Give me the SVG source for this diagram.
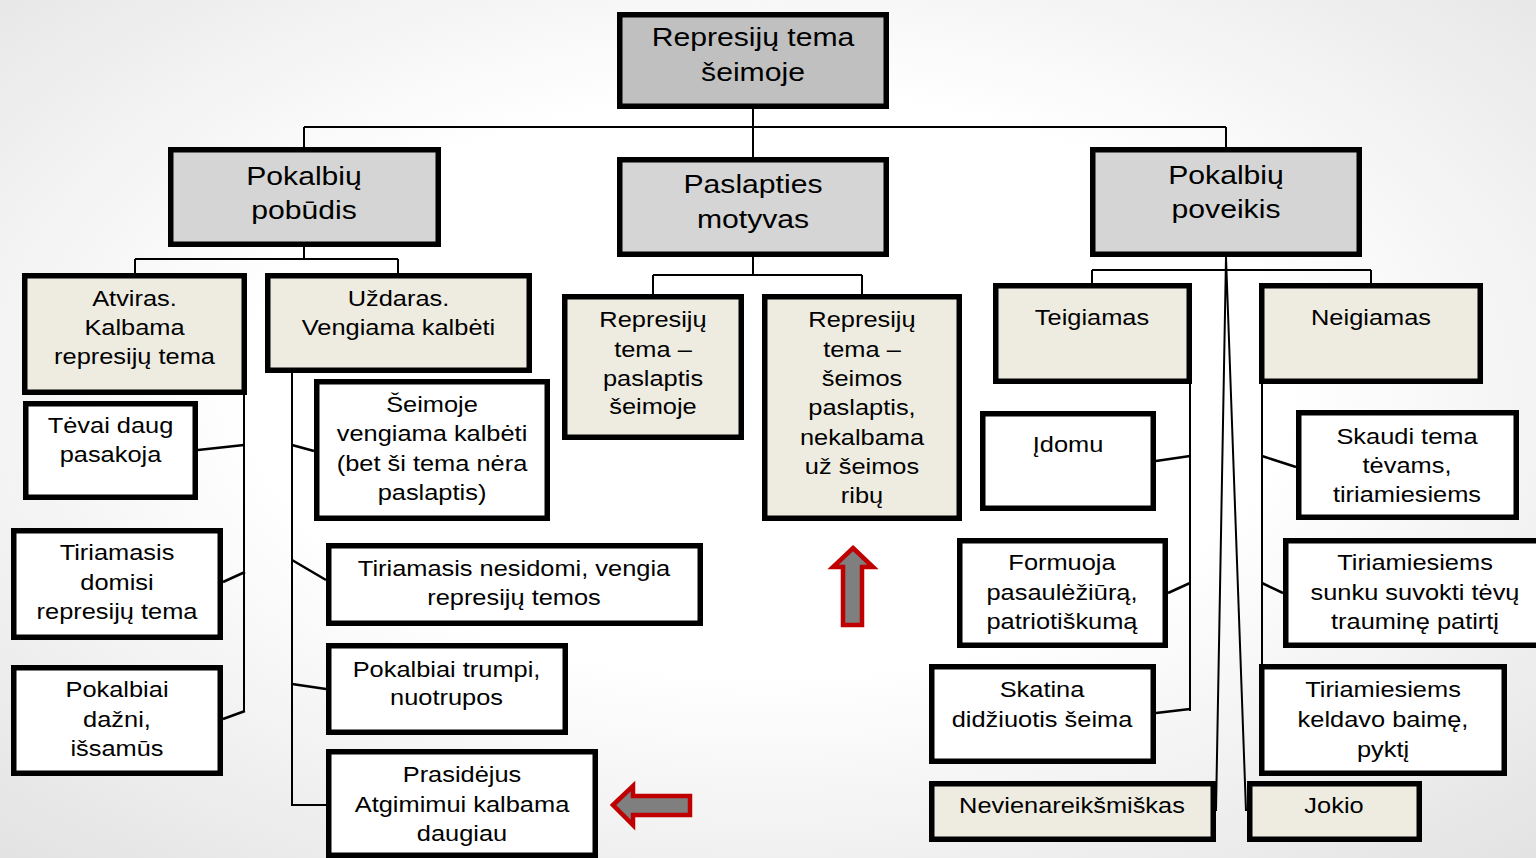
<svg xmlns="http://www.w3.org/2000/svg" width="1536" height="858" viewBox="0 0 1536 858">
<defs>
<radialGradient id="bg" cx="50%" cy="45%" r="75%">
<stop offset="0.45" stop-color="#ffffff"/>
<stop offset="1" stop-color="#e2e2e2"/>
</radialGradient>
<style>
.b{stroke:#000;stroke-width:5.5;}
.g1{fill:#c0c0c0;}
.g2{fill:#d5d5d5;}
.t2{fill:#eeece1;}
.w{fill:#ffffff;}
.c{fill:none;stroke:#000;stroke-width:2;}
.d{fill:none;stroke:#000;stroke-width:2.5;}
text{font-family:"Liberation Sans",Arial,sans-serif;fill:#000;text-anchor:middle;}
.L{font-size:26px;}
.S{font-size:22px;}
.arr{fill:#7f7f7f;stroke:#c00000;stroke-width:4.5;stroke-linejoin:miter;}
</style>
</defs>
<rect x="0" y="0" width="1536" height="858" fill="url(#bg)"/>

<g id="connectors">
<path class="c" d="M753,109V157M304,127H1226M304,127V147M1226,127V147"/>
<path class="c" d="M304,247V259M135,259H398M135,259V273M398,259V273"/>
<path class="c" d="M753,257V275M653,275H862M653,275V294M862,275V294"/>
<path class="c" d="M1226,257V270M1092,270H1371M1092,270V283M1371,270V283"/>
<path class="c" d="M1226,257L1216,811M1226,257L1246,811"/>
<path class="c" d="M244,395V711"/>
<path class="d" d="M198,450L244,445M223,582L245,572M223,719L245,711"/>
<path class="c" d="M292,373V805H326"/>
<path class="d" d="M292,445L314,451M292,560L326,580M292,684L326,689"/>
<path class="c" d="M1190,384V711"/>
<path class="d" d="M1156,461L1190,456M1168,593L1190,583M1156,713L1190,709"/>
<path class="c" d="M1262,384V664"/>
<path class="d" d="M1262,456L1296,467M1262,583L1283,593"/>
</g>

<g id="root">
<rect class="b g1" x="619.75" y="14.75" width="266.5" height="91.5"/>
<text class="L" transform="translate(753 0) scale(1.16 1)"><tspan x="0" y="46">Represijų tema</tspan><tspan x="0" y="81">šeimoje</tspan></text>
</g>

<g id="pobudis">
<rect class="b g2" x="170.75" y="149.75" width="267.5" height="94.5"/>
<text class="L" transform="translate(304 0) scale(1.16 1)"><tspan x="0" y="185">Pokalbių</tspan><tspan x="0" y="219">pobūdis</tspan></text>
</g>

<g id="paslapties">
<rect class="b g2" x="619.75" y="159.75" width="266.5" height="94.5"/>
<text class="L" transform="translate(753 0) scale(1.16 1)"><tspan x="0" y="193">Paslapties</tspan><tspan x="0" y="228">motyvas</tspan></text>
</g>

<g id="poveikis">
<rect class="b g2" x="1092.75" y="149.75" width="266.5" height="104.5"/>
<text class="L" transform="translate(1226 0) scale(1.16 1)"><tspan x="0" y="184">Pokalbių</tspan><tspan x="0" y="218">poveikis</tspan></text>
</g>

<g id="atviras">
<rect class="b t2" x="24.75" y="275.75" width="219.5" height="116.5"/>
<text class="S" transform="translate(134.5 0) scale(1.155 1)"><tspan x="0" y="306">Atviras.</tspan><tspan x="0" y="335">Kalbama</tspan><tspan x="0" y="364">represijų tema</tspan></text>
</g>

<g id="uzdaras">
<rect class="b t2" x="267.75" y="275.75" width="261.5" height="94.5"/>
<text class="S" transform="translate(398.5 0) scale(1.155 1)"><tspan x="0" y="306">Uždaras.</tspan><tspan x="0" y="335">Vengiama kalbėti</tspan></text>
</g>

<g id="tevai">
<rect class="b w" x="25.75" y="403.75" width="169.5" height="93.5"/>
<text class="S" transform="translate(110.5 0) scale(1.155 1)"><tspan x="0" y="433">Tėvai daug</tspan><tspan x="0" y="462">pasakoja</tspan></text>
</g>

<g id="domisi">
<rect class="b w" x="13.75" y="530.75" width="206.5" height="106.5"/>
<text class="S" transform="translate(117 0) scale(1.155 1)"><tspan x="0" y="560">Tiriamasis</tspan><tspan x="0" y="590">domisi</tspan><tspan x="0" y="619">represijų tema</tspan></text>
</g>

<g id="dazni">
<rect class="b w" x="13.75" y="667.75" width="206.5" height="105.5"/>
<text class="S" transform="translate(117 0) scale(1.155 1)"><tspan x="0" y="697">Pokalbiai</tspan><tspan x="0" y="727">dažni,</tspan><tspan x="0" y="756">išsamūs</tspan></text>
</g>

<g id="seimoje">
<rect class="b w" x="316.75" y="381.75" width="230.5" height="136.5"/>
<text class="S" transform="translate(432 0) scale(1.155 1)"><tspan x="0" y="412">Šeimoje</tspan><tspan x="0" y="441">vengiama kalbėti</tspan><tspan x="0" y="471">(bet ši tema nėra</tspan><tspan x="0" y="500">paslaptis)</tspan></text>
</g>

<g id="nesidomi">
<rect class="b w" x="328.75" y="545.75" width="371.5" height="77.5"/>
<text class="S" transform="translate(514 0) scale(1.155 1)"><tspan x="0" y="576">Tiriamasis nesidomi, vengia</tspan><tspan x="0" y="605">represijų temos</tspan></text>
</g>

<g id="trumpi">
<rect class="b w" x="328.75" y="645.75" width="236.5" height="86.5"/>
<text class="S" transform="translate(446.5 0) scale(1.155 1)"><tspan x="0" y="677">Pokalbiai trumpi,</tspan><tspan x="0" y="705">nuotrupos</tspan></text>
</g>

<g id="prasidejus">
<rect class="b w" x="328.75" y="751.75" width="266.5" height="103.5"/>
<text class="S" transform="translate(462 0) scale(1.155 1)"><tspan x="0" y="782">Prasidėjus</tspan><tspan x="0" y="812">Atgimimui kalbama</tspan><tspan x="0" y="841">daugiau</tspan></text>
</g>

<g id="rep1">
<rect class="b t2" x="564.75" y="296.75" width="176.5" height="140.5"/>
<text class="S" transform="translate(653 0) scale(1.155 1)"><tspan x="0" y="327">Represijų</tspan><tspan x="0" y="357">tema –</tspan><tspan x="0" y="386">paslaptis</tspan><tspan x="0" y="414">šeimoje</tspan></text>
</g>

<g id="rep2">
<rect class="b t2" x="764.75" y="296.75" width="194.5" height="221.5"/>
<text class="S" transform="translate(862 0) scale(1.155 1)"><tspan x="0" y="327">Represijų</tspan><tspan x="0" y="357">tema –</tspan><tspan x="0" y="386">šeimos</tspan><tspan x="0" y="415">paslaptis,</tspan><tspan x="0" y="445">nekalbama</tspan><tspan x="0" y="474">už šeimos</tspan><tspan x="0" y="503">ribų</tspan></text>
</g>

<g id="teigiamas">
<rect class="b t2" x="995.75" y="285.75" width="193.5" height="95.5"/>
<text class="S" transform="translate(1092 0) scale(1.155 1)"><tspan x="0" y="325">Teigiamas</tspan></text>
</g>

<g id="neigiamas">
<rect class="b t2" x="1261.75" y="285.75" width="218.5" height="95.5"/>
<text class="S" transform="translate(1371 0) scale(1.155 1)"><tspan x="0" y="325">Neigiamas</tspan></text>
</g>

<g id="idomu">
<rect class="b w" x="982.75" y="413.75" width="170.5" height="94.5"/>
<text class="S" transform="translate(1068 0) scale(1.155 1)"><tspan x="0" y="452">Įdomu</tspan></text>
</g>

<g id="formuoja">
<rect class="b w" x="959.75" y="540.75" width="205.5" height="104.5"/>
<text class="S" transform="translate(1062 0) scale(1.155 1)"><tspan x="0" y="570">Formuoja</tspan><tspan x="0" y="600">pasaulėžiūrą,</tspan><tspan x="0" y="629">patriotiškumą</tspan></text>
</g>

<g id="skatina">
<rect class="b w" x="931.75" y="666.75" width="221.5" height="94.5"/>
<text class="S" transform="translate(1042 0) scale(1.155 1)"><tspan x="0" y="697">Skatina</tspan><tspan x="0" y="727">didžiuotis šeima</tspan></text>
</g>

<g id="nevienareiksmiskas">
<rect class="b t2" x="931.75" y="783.75" width="281.5" height="55.5"/>
<text class="S" transform="translate(1072 0) scale(1.155 1)"><tspan x="0" y="813">Nevienareikšmiškas</tspan></text>
</g>

<g id="skaudi">
<rect class="b w" x="1298.75" y="412.75" width="217.5" height="104.5"/>
<text class="S" transform="translate(1407 0) scale(1.155 1)"><tspan x="0" y="444">Skaudi tema</tspan><tspan x="0" y="473">tėvams,</tspan><tspan x="0" y="502">tiriamiesiems</tspan></text>
</g>

<g id="sunku">
<rect class="b w" x="1285.75" y="540.75" width="257.5" height="104.5"/>
<text class="S" transform="translate(1415 0) scale(1.155 1)"><tspan x="0" y="570">Tiriamiesiems</tspan><tspan x="0" y="600">sunku suvokti tėvų</tspan><tspan x="0" y="629">trauminę patirtį</tspan></text>
</g>

<g id="keldavo">
<rect class="b w" x="1261.75" y="666.75" width="242.5" height="106.5"/>
<text class="S" transform="translate(1383 0) scale(1.155 1)"><tspan x="0" y="697">Tiriamiesiems</tspan><tspan x="0" y="727">keldavo baimę,</tspan><tspan x="0" y="757">pyktį</tspan></text>
</g>

<g id="jokio">
<rect class="b t2" x="1249.75" y="783.75" width="169.5" height="55.5"/>
<text class="S" transform="translate(1334 0) scale(1.155 1)"><tspan x="0" y="813">Jokio</tspan></text>
</g>

<g id="arrow-left">
<polygon class="arr" points="613,805 633,786 633,796 690,796 690,815 633,815 633,825"/>
</g>
<g id="arrow-up">
<polygon class="arr" points="853,548 873,567 862,567 862,625 843,625 843,567 833,567"/>
</g>
</svg>
